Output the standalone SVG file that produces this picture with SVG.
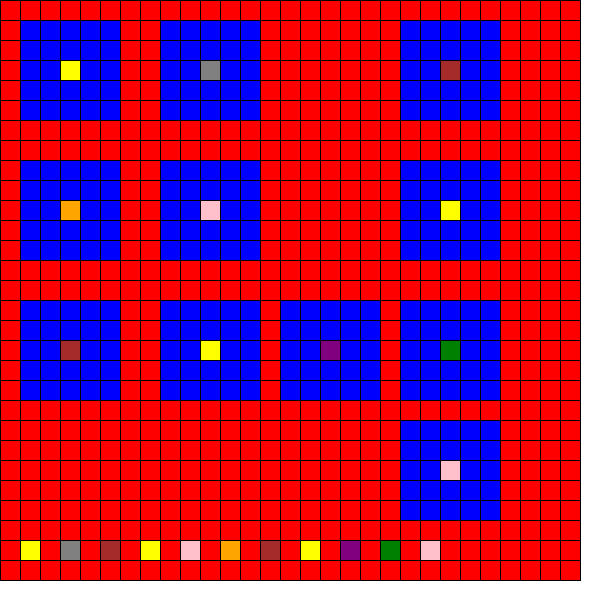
<svg xmlns="http://www.w3.org/2000/svg" width="600" height="600" viewBox="0 0 600 600">
<style>
.blk{fill:#0000FF}
.grid{stroke:#000;stroke-width:1;fill:none;shape-rendering:crispEdges}
</style>
<rect width="600" height="600" fill="#fff"/>
<rect x="0" y="0" width="580" height="580" fill="#FF0000"/>
<g id="blocks" shape-rendering="crispEdges">
<rect class="blk" x="20" y="20" width="100" height="100"/>
<rect class="blk" x="160" y="20" width="100" height="100"/>
<rect class="blk" x="400" y="20" width="100" height="100"/>
<rect class="blk" x="20" y="160" width="100" height="100"/>
<rect class="blk" x="160" y="160" width="100" height="100"/>
<rect class="blk" x="400" y="160" width="100" height="100"/>
<rect class="blk" x="20" y="300" width="100" height="100"/>
<rect class="blk" x="160" y="300" width="100" height="100"/>
<rect class="blk" x="280" y="300" width="100" height="100"/>
<rect class="blk" x="400" y="300" width="100" height="100"/>
<rect class="blk" x="400" y="420" width="100" height="100"/>
</g>
<g id="cells" shape-rendering="crispEdges">
<rect x="60" y="60" width="20" height="20" fill="#FFFF00"/>
<rect x="200" y="60" width="20" height="20" fill="#808080"/>
<rect x="440" y="60" width="20" height="20" fill="#A52A2A"/>
<rect x="60" y="200" width="20" height="20" fill="#FFA500"/>
<rect x="200" y="200" width="20" height="20" fill="#FFC0CB"/>
<rect x="440" y="200" width="20" height="20" fill="#FFFF00"/>
<rect x="60" y="340" width="20" height="20" fill="#A52A2A"/>
<rect x="200" y="340" width="20" height="20" fill="#FFFF00"/>
<rect x="320" y="340" width="20" height="20" fill="#800080"/>
<rect x="440" y="340" width="20" height="20" fill="#008000"/>
<rect x="440" y="460" width="20" height="20" fill="#FFC0CB"/>
<rect x="20" y="540" width="20" height="20" fill="#FFFF00"/>
<rect x="60" y="540" width="20" height="20" fill="#808080"/>
<rect x="100" y="540" width="20" height="20" fill="#A52A2A"/>
<rect x="140" y="540" width="20" height="20" fill="#FFFF00"/>
<rect x="180" y="540" width="20" height="20" fill="#FFC0CB"/>
<rect x="220" y="540" width="20" height="20" fill="#FFA500"/>
<rect x="260" y="540" width="20" height="20" fill="#A52A2A"/>
<rect x="300" y="540" width="20" height="20" fill="#FFFF00"/>
<rect x="340" y="540" width="20" height="20" fill="#800080"/>
<rect x="380" y="540" width="20" height="20" fill="#008000"/>
<rect x="420" y="540" width="20" height="20" fill="#FFC0CB"/>
</g>
<path id="gridlines" class="grid" d="M0.5,0V581M20.5,0V581M40.5,0V581M60.5,0V581M80.5,0V581M100.5,0V581M120.5,0V581M140.5,0V581M160.5,0V581M180.5,0V581M200.5,0V581M220.5,0V581M240.5,0V581M260.5,0V581M280.5,0V581M300.5,0V581M320.5,0V581M340.5,0V581M360.5,0V581M380.5,0V581M400.5,0V581M420.5,0V581M440.5,0V581M460.5,0V581M480.5,0V581M500.5,0V581M520.5,0V581M540.5,0V581M560.5,0V581M580.5,0V581M0,0.5H581M0,20.5H581M0,40.5H581M0,60.5H581M0,80.5H581M0,100.5H581M0,120.5H581M0,140.5H581M0,160.5H581M0,180.5H581M0,200.5H581M0,220.5H581M0,240.5H581M0,260.5H581M0,280.5H581M0,300.5H581M0,320.5H581M0,340.5H581M0,360.5H581M0,380.5H581M0,400.5H581M0,420.5H581M0,440.5H581M0,460.5H581M0,480.5H581M0,500.5H581M0,520.5H581M0,540.5H581M0,560.5H581M0,580.5H581"/>
</svg>
